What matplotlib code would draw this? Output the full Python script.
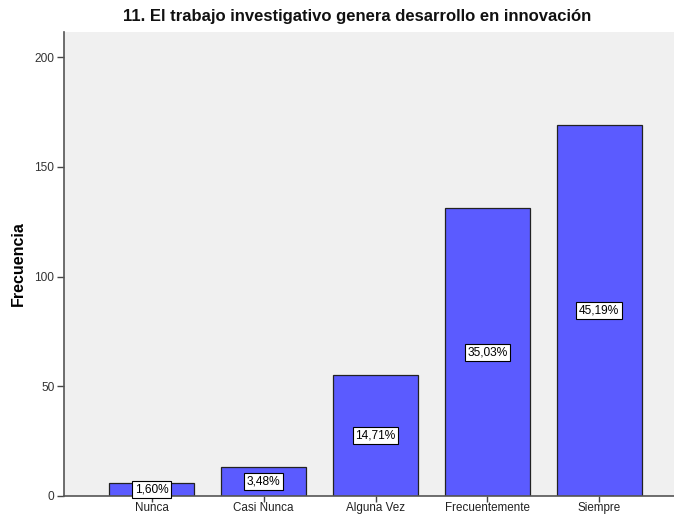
import matplotlib
matplotlib.use("Agg")
import matplotlib.pyplot as plt

categories = ["Nunca", "Casi Nunca", "Alguna Vez", "Frecuentemente", "Siempre"]
counts = [6, 13, 55, 131, 169]
pct_labels = ["1,60%", "3,48%", "14,71%", "35,03%", "45,19%"]
yticks = [0, 50, 100, 150, 200]

plt.rcParams['font.family'] = ['Liberation Sans', 'DejaVu Sans']

fig = plt.figure(figsize=(6.74, 5.15), dpi=100)
ax = fig.add_axes([64/674, 1-496/515, 1-64/674 + 0.02, (496-32)/515])
ax.set_facecolor('#f0f0f0')

x = list(range(len(categories)))
ax.bar(x, counts, width=0.76, color='#5b5bff', edgecolor='#222222', linewidth=0.9, zorder=2)
for xi, c, lab in zip(x, counts, pct_labels):
    ax.text(xi, c/2, lab, ha='center', va='center', fontsize=8.6, color='black', zorder=3,
            bbox=dict(boxstyle='square,pad=0.22', facecolor='white', edgecolor='black', linewidth=0.8))

ax.set_xlim(-0.786, 4.66 + 0.13)
ax.set_ylim(0, 211.4)
ax.set_yticks(yticks)
ax.set_yticklabels([str(v) for v in yticks], fontsize=8.6, color='#333333')
ax.set_xticks(x)
ax.set_xticklabels(categories, fontsize=8.4, color='#222222')
ax.tick_params(axis='y', direction='out', length=5, width=1, color='#444444', pad=2)
ax.tick_params(axis='x', direction='out', length=4, width=1, color='#444444', pad=0.3)
for s in ['right', 'top']:
    ax.spines[s].set_visible(False)
for s in ['left', 'bottom']:
    ax.spines[s].set_color('#555555')
    ax.spines[s].set_linewidth(1.2)

ax.set_ylabel('Frecuencia', fontsize=11.5, fontweight='bold', labelpad=6)
fig.text(357/674, 1-16/515, '11. El trabajo investigativo genera desarrollo en innovación',
         ha='center', va='center', fontsize=12, fontweight='bold', color='#111111')

fig.savefig('out.png', dpi=100, facecolor='white')
